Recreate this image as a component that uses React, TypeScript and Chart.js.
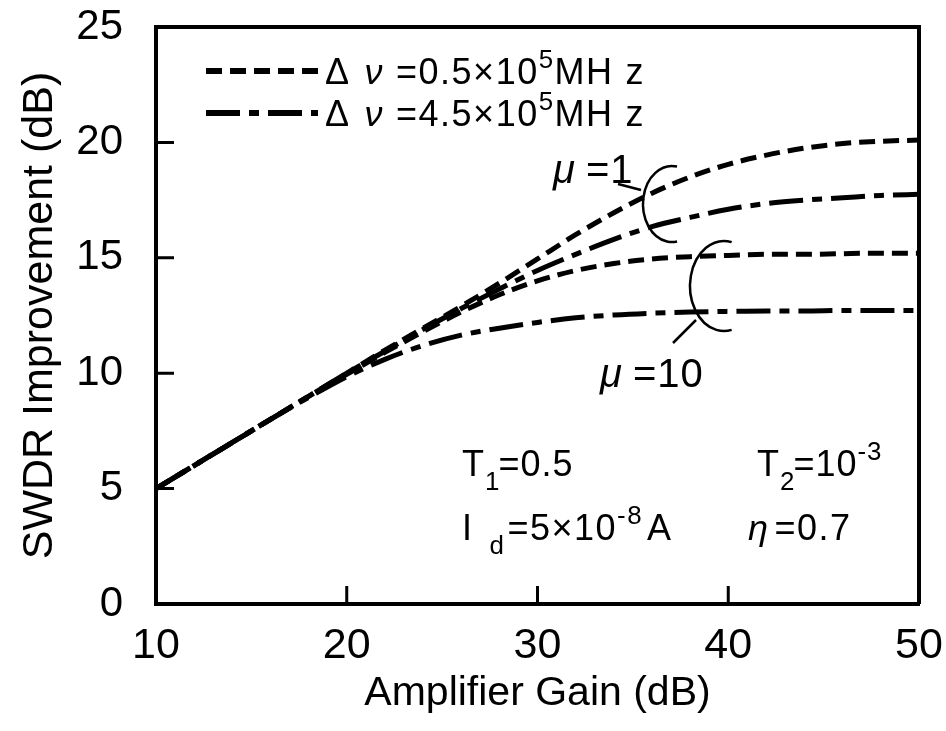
import React, { useEffect, useRef } from "react";
import { Chart, registerables } from "chart.js";

Chart.register(...registerables);

// ---- data ----
const gain = [10, 12, 14, 16, 18, 20, 22, 24, 26, 28, 30, 32, 34, 36, 38, 40, 42, 44, 46, 48, 50];
// Δν = 0.5×10^5 MHz, μ = 1
const narrowMu1 = [5.0, 6.0, 7.0, 8.0, 9.0, 10.0, 11.0, 11.95, 12.9, 13.9, 14.95, 16.0, 16.95, 17.8, 18.5, 19.05, 19.45, 19.75, 19.95, 20.05, 20.1];
// Δν = 4.5×10^5 MHz, μ = 1
const wideMu1 = [5.0, 6.0, 7.0, 8.0, 9.0, 10.0, 10.95, 11.9, 12.8, 13.65, 14.45, 15.15, 15.8, 16.35, 16.75, 17.1, 17.35, 17.5, 17.6, 17.7, 17.75];
// Δν = 0.5×10^5 MHz, μ = 10
const narrowMu10 = [5.0, 6.0, 7.0, 8.0, 9.0, 9.95, 10.9, 11.8, 12.65, 13.4, 14.0, 14.45, 14.75, 14.95, 15.05, 15.1, 15.15, 15.15, 15.18, 15.2, 15.2];
// Δν = 4.5×10^5 MHz, μ = 10
const wideMu10 = [5.0, 6.0, 7.0, 8.0, 8.95, 9.85, 10.6, 11.2, 11.65, 11.95, 12.2, 12.4, 12.52, 12.6, 12.65, 12.68, 12.7, 12.7, 12.72, 12.72, 12.72];

const xTicks = [10, 20, 30, 40, 50];
const yTicks = [0, 5, 10, 15, 20, 25];

const xTitle = "Amplifier Gain (dB)";
const yTitle = "SWDR Improvement (dB)";

const DASH_NARROW = [16, 8];
const DASH_WIDE = [34, 9, 10, 9];

const FONT = '"Liberation Sans", Arial, Helvetica, sans-serif';

type Seg = { t: string; k?: "sub" | "sup"; it?: boolean; gap?: number };

function drawRich(ctx: CanvasRenderingContext2D, x: number, y: number, segs: Seg[], size: number, spacing = 0) {
  let cx = x;
  ctx.save();
  ctx.fillStyle = "#000";
  ctx.textAlign = "left";
  ctx.textBaseline = "alphabetic";
  (ctx as any).letterSpacing = spacing + "px";
  for (const s of segs) {
    cx += s.gap || 0;
    const fs = s.k ? size * 0.72 : size;
    const dy = s.k === "sub" ? size * 0.4 : s.k === "sup" ? -size * 0.45 : 0;
    ctx.font = `${s.it ? "italic " : ""}${fs}px ${FONT}`;
    ctx.fillText(s.t, cx, y + dy);
    cx += ctx.measureText(s.t).width;
  }
  ctx.restore();
}

const decorPlugin = {
  id: "decor",
  afterDraw(chart: any) {
    const { ctx, chartArea: a, scales } = chart;
    const xs = scales.x;
    const ys = scales.y;
    ctx.save();
    // frame top & right
    ctx.strokeStyle = "#000";
    ctx.lineWidth = 4;
    ctx.beginPath();
    ctx.moveTo(a.left, a.top);
    ctx.lineTo(a.right, a.top);
    ctx.lineTo(a.right, a.bottom);
    ctx.stroke();
    // inward ticks
    ctx.lineWidth = 3;
    ctx.beginPath();
    for (const v of xTicks.slice(1, -1)) {
      const px = xs.getPixelForValue(v);
      ctx.moveTo(px, a.bottom);
      ctx.lineTo(px, a.bottom - 18);
    }
    for (const v of yTicks.slice(1, -1)) {
      const py = ys.getPixelForValue(v);
      ctx.moveTo(a.left, py);
      ctx.lineTo(a.left + 18, py);
    }
    ctx.stroke();

    // legend
    const ds = chart.data.datasets;
    const legendRows = [
      { ds: ds[0], y: 71, segs: [{ t: "Δ" }, { t: "ν", it: true, gap: 14 }, { t: "=0.5×10", gap: 12 }, { t: "5", k: "sup" }, { t: "MH" }, { t: "z", gap: 12 }] },
      { ds: ds[1], y: 113, segs: [{ t: "Δ" }, { t: "ν", it: true, gap: 14 }, { t: "=4.5×10", gap: 12 }, { t: "5", k: "sup" }, { t: "MH" }, { t: "z", gap: 12 }] },
    ];
    for (const r of legendRows) {
      ctx.save();
      ctx.strokeStyle = "#000";
      ctx.lineWidth = 6;
      ctx.setLineDash(r.ds.borderDash);
      ctx.beginPath();
      ctx.moveTo(206, r.y);
      ctx.lineTo(318, r.y);
      ctx.stroke();
      ctx.restore();
      drawRich(ctx, 325, r.y + 13, r.segs as Seg[], 36, 1.5);
    }

    // μ annotations
    drawRich(ctx, 553, 183, [{ t: "μ", it: true }, { t: "=1", gap: 10 }], 40, 1);
    drawRich(ctx, 600, 387, [{ t: "μ", it: true }, { t: "=10", gap: 10 }], 40, 1);
    ctx.strokeStyle = "#000";
    ctx.lineWidth = 2.5;
    ctx.setLineDash([]);
    ctx.beginPath();
    ctx.moveTo(618, 184);
    ctx.lineTo(641, 190);
    ctx.stroke();
    ctx.beginPath();
    ctx.ellipse(672, 204, 29, 38, 0, (-80 * Math.PI) / 180, (80 * Math.PI) / 180, true);
    ctx.stroke();
    ctx.beginPath();
    ctx.moveTo(673, 343);
    ctx.lineTo(696, 320);
    ctx.stroke();
    ctx.beginPath();
    ctx.ellipse(724, 286, 34, 45, 0, (-77 * Math.PI) / 180, (77 * Math.PI) / 180, true);
    ctx.stroke();

    // parameter text
    drawRich(ctx, 462, 476, [{ t: "T" }, { t: "1", k: "sub", gap: 0 }, { t: "=0.5", gap: -2 }], 36, 1);
    drawRich(ctx, 757, 476, [{ t: "T" }, { t: "2", k: "sub", gap: 0 }, { t: "=10", gap: -2 }, { t: "-3", k: "sup" }], 36, 1);
    drawRich(ctx, 462, 540, [{ t: "I" }, { t: "d", k: "sub", gap: 16 }, { t: "=5×10", gap: 2 }, { t: "-8", k: "sup" }, { t: "A", gap: 4 }], 36, 1.5);
    drawRich(ctx, 748, 540, [{ t: "η", it: true }, { t: "=0.7", gap: 5 }], 36, 1.5);
    ctx.restore();
  },
};

export default function App() {
  const ref = useRef<HTMLCanvasElement | null>(null);
  useEffect(() => {
    if (!ref.current) return;
    const mk = (ys: number[]) => gain.map((g, i) => ({ x: g, y: ys[i] }));
    const common = {
      borderColor: "#000",
      borderWidth: 5,
      pointRadius: 0,
      fill: false,
      cubicInterpolationMode: "monotone" as const,
      borderCapStyle: "butt" as const,
    };
    const chart = new Chart(ref.current, {
      type: "line",
      data: {
        datasets: [
          { ...common, label: "Δν=0.5×10^5 MHz, μ=1", data: mk(narrowMu1), borderDash: DASH_NARROW },
          { ...common, label: "Δν=4.5×10^5 MHz, μ=1", data: mk(wideMu1), borderDash: DASH_WIDE },
          { ...common, label: "Δν=0.5×10^5 MHz, μ=10", data: mk(narrowMu10), borderDash: DASH_NARROW },
          { ...common, label: "Δν=4.5×10^5 MHz, μ=10", data: mk(wideMu10), borderDash: DASH_WIDE },
        ],
      },
      options: {
        responsive: false,
        animation: false,
        layout: { padding: { top: 27, right: 27, left: 0, bottom: 0 } },
        plugins: { legend: { display: false }, tooltip: { enabled: false }, title: { display: false } },
        scales: {
          x: {
            type: "linear",
            min: 10,
            max: 50,
            afterFit: (s: any) => { s.height = 127; s.paddingLeft = 0; s.paddingRight = 0; s.paddingTop = 0; s.paddingBottom = 0; },
            afterBuildTicks: (s: any) => { s.ticks = xTicks.map((v) => ({ value: v })); },
            grid: { display: true, drawOnChartArea: false, drawTicks: false },
            border: { display: true, color: "#000", width: 4 },
            ticks: { color: "#000", font: { family: FONT, size: 43 }, padding: 16, maxRotation: 0 },
            title: { display: true, text: xTitle, color: "#000", font: { family: FONT, size: 41 }, padding: { top: 0, bottom: 13 } },
          },
          y: {
            type: "linear",
            min: 0,
            max: 25,
            afterFit: (s: any) => { s.width = 156; s.paddingLeft = 0; s.paddingRight = 0; s.paddingTop = 0; s.paddingBottom = 0; },
            afterBuildTicks: (s: any) => { s.ticks = yTicks.map((v) => ({ value: v })); },
            grid: { display: true, drawOnChartArea: false, drawTicks: false },
            border: { display: true, color: "#000", width: 4 },
            ticks: { color: "#000", font: { family: FONT, size: 42 }, padding: 33 },
            title: { display: true, text: yTitle, color: "#000", font: { family: FONT, size: 43 }, padding: { top: 14, bottom: 0 } },
          },
        },
      },
      plugins: [decorPlugin],
    });
    return () => chart.destroy();
  }, []);
  return (
    <div style={{ position: "fixed", left: 0, top: 0, width: 946, height: 731, background: "#fff" }}>
      <canvas ref={ref} width={946} height={731} />
    </div>
  );
}
